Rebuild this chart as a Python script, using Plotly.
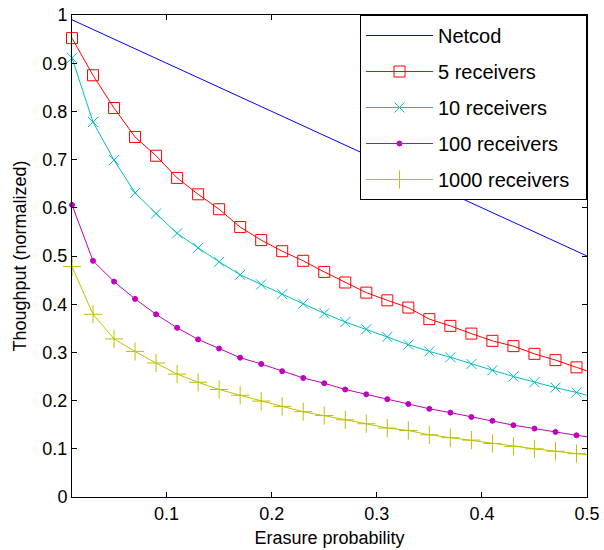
import plotly.graph_objects as go

p = [0.01, 0.03, 0.05, 0.07, 0.09, 0.11, 0.13, 0.15, 0.17, 0.19, 0.21, 0.23, 0.25,
     0.27, 0.29, 0.31, 0.33, 0.35, 0.37, 0.39, 0.41, 0.43, 0.45, 0.47, 0.49, 0.51]

netcod_x = [0.01, 0.5]
netcod_y = [0.99, 0.50]

r5 = [0.952, 0.875, 0.807, 0.747, 0.708, 0.662, 0.628, 0.597, 0.560, 0.533, 0.510, 0.490, 0.467,
      0.445, 0.424, 0.408, 0.393, 0.369, 0.355, 0.339, 0.324, 0.313, 0.297, 0.284, 0.269, 0.254]
r10 = [0.911, 0.778, 0.699, 0.631, 0.588, 0.547, 0.517, 0.488, 0.461, 0.441, 0.421, 0.401, 0.381,
       0.363, 0.348, 0.332, 0.316, 0.302, 0.290, 0.276, 0.263, 0.250, 0.238, 0.227, 0.217, 0.205]
r100 = [0.606, 0.490, 0.447, 0.411, 0.379, 0.351, 0.327, 0.308, 0.289, 0.276, 0.261, 0.247, 0.236,
        0.223, 0.213, 0.203, 0.193, 0.183, 0.175, 0.166, 0.158, 0.149, 0.142, 0.135, 0.128, 0.122]
r1000 = [0.478, 0.379, 0.328, 0.302, 0.278, 0.255, 0.238, 0.223, 0.211, 0.199, 0.188, 0.177, 0.169,
         0.160, 0.152, 0.143, 0.138, 0.129, 0.123, 0.118, 0.111, 0.105, 0.100, 0.095, 0.090, 0.086]

names = ["5 receivers", "10 receivers", "100 receivers", "1000 receivers\u00a0\u00a0"]
series = [r5, r10, r100, r1000]
colors = ["#ff0000", "#00bfbf", "#bf00bf", "#bfbf00"]
symbols = ["square-open", "x-thin-open", "circle", "cross-thin-open"]
sizes = [11, 10, 5, 13]

xticks = [0.1, 0.2, 0.3, 0.4, 0.5]
yticks = [0, 0.1, 0.2, 0.3, 0.4, 0.5, 0.6, 0.7, 0.8, 0.9, 1]

fig = go.Figure()
fig.add_trace(go.Scatter(x=netcod_x, y=netcod_y, mode="lines", name="Netcod",
                         line=dict(color="#0000ff", width=1), legendgroup="g0"))
for i, (nm, ys, c, s, sz) in enumerate(zip(names, series, colors, symbols, sizes)):
    fig.add_trace(go.Scatter(x=p[:-1], y=ys[:-1], mode="lines+markers", name=nm,
                             line=dict(color=c, width=1),
                             marker=dict(symbol=s, size=sz, color=c,
                                         line=dict(color=c, width=1)),
                             cliponaxis=False, legendgroup=f"g{i+1}"))
    fig.add_trace(go.Scatter(x=p[-2:], y=ys[-2:], mode="lines", showlegend=False,
                             line=dict(color=c, width=1), cliponaxis=True,
                             hoverinfo="skip"))

axis_common = dict(showline=True, linecolor="black", linewidth=1, mirror="ticks",
                   ticks="inside", ticklen=5, tickcolor="black", showgrid=False,
                   zeroline=False, automargin=False, ticklabeloverflow="allow",
                   tickfont=dict(size=18, color="black"))
fig.update_xaxes(range=[0.01, 0.5], tickvals=xticks, ticktext=[str(v) for v in xticks],
                 title=dict(text="Erasure probability", font=dict(size=18, color="black"),
                            standoff=8), **axis_common)
fig.update_yaxes(range=[0, 1], tickvals=yticks,
                 ticktext=[str(v) if v not in (0, 1) else str(int(v)) for v in yticks],
                 title=dict(text="Thoughput (normalized)", font=dict(size=18, color="black"),
                            standoff=11), **axis_common)

fig.update_layout(
    width=604, height=550,
    margin=dict(l=72, r=17, t=15, b=53),
    paper_bgcolor="white", plot_bgcolor="white",
    font=dict(family="Liberation Sans, Arial, sans-serif", color="black"),
    showlegend=True,
    legend=dict(x=1, y=1, xanchor="right", yanchor="top",
                bgcolor="white", bordercolor="black", borderwidth=1,
                font=dict(size=20, color="black"), itemwidth=67,
                tracegroupgap=7, traceorder="grouped"),
)

# remove the page's default body margin so the figure sits at the window corner
fig.write_html("out.html", config={"displayModeBar": False},
               post_script="document.body.style.margin='0';")
